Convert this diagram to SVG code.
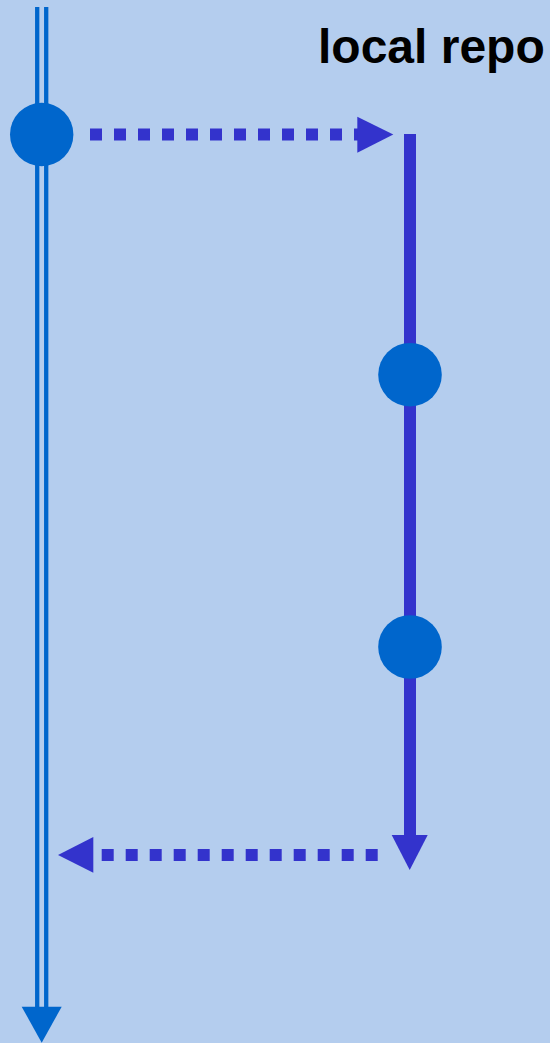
<svg xmlns="http://www.w3.org/2000/svg" width="550" height="1043" viewBox="0 0 550 1043">
<style>
.rail{stroke:#0066cc;stroke-width:4.3;fill:none}
.dot{stroke:#3333cc;stroke-width:12;stroke-dasharray:12 12;fill:none}
.branch{stroke:#3333cc;stroke-width:12;fill:none}
.head{fill:#3333cc}
.node{fill:#0066cc}
.lbl{font-family:"Liberation Sans",Arial,sans-serif;font-weight:bold;font-size:48px;fill:#000}
</style>
<rect width="550" height="1043" fill="#b4cdee"/>
<g id="connectors">
<line class="rail" x1="37.2" y1="7" x2="37.2" y2="1010"/>
<line class="rail" x1="46.2" y1="7" x2="46.2" y2="1010"/>
<polygon fill="#0066cc" points="21.7,1006.7 61.7,1006.7 41.7,1042.7"/>
<line class="dot" x1="90" y1="134.5" x2="364" y2="134.5"/>
<polygon class="head" points="357.3,116.7 393.3,134.5 357.3,152.7"/>
<line class="branch" x1="410" y1="134" x2="410" y2="840"/>
<polygon class="head" points="391.7,835 427.7,835 409.7,870"/>
<line class="dot" x1="101.7" y1="855" x2="378" y2="855"/>
<polygon class="head" points="93.3,837 58,855 93.3,872.7"/>
</g>
<g id="n1"><circle class="node" cx="41.7" cy="134.5" r="31.7"/></g>
<g id="n2"><circle class="node" cx="410" cy="374.7" r="31.8"/></g>
<g id="n3"><circle class="node" cx="410" cy="647" r="31.8"/></g>
<g id="label"><text class="lbl" x="318" y="63.3">local repo</text></g>
</svg>
